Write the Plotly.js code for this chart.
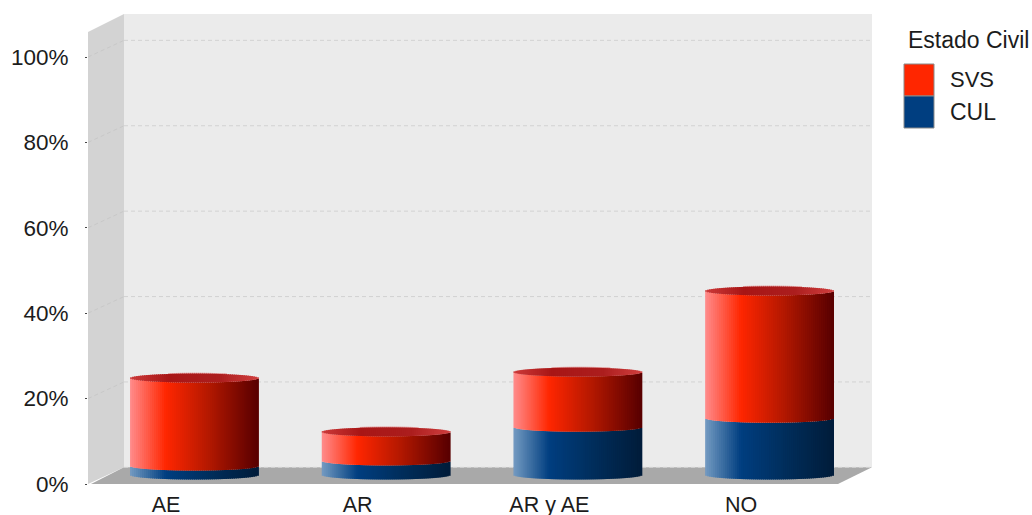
<!DOCTYPE html>
<html>
<head>
<meta charset="utf-8">
<script src="https://cdn.plot.ly/plotly-3.0.1.min.js"></script>
<style>html,body{margin:0;padding:0;background:#fff;overflow:hidden}#chart{width:1032px;height:515px}</style>
</head>
<body>
<div id="chart"></div>
<script>
// Share of cases per category, stacked by civil status (percent).
const categories = ['AE', 'AR', 'AR y AE', 'NO'];
const svs = [20.6, 6.8, 12.9, 29.8];
const cul = [2.1, 3.3, 11.2, 13.3];
const yTicks = [0, 20, 40, 60, 80, 100];
const legendTitle = 'Estado Civil';
const seriesNames = ['SVS', 'CUL'];

// Shading across a cylinder, left to right: [position, r, g, b].
const redShade = [[0, 255, 140, 140], [0.28, 255, 38, 0], [0.62, 178, 24, 0], [1, 88, 0, 0]];
const blueShade = [[0, 116, 155, 194], [0.28, 0, 62, 128], [0.62, 0, 46, 92], [1, 0, 28, 58]];
const capShade = [[0, 205, 58, 58], [0.3, 168, 22, 22], [0.7, 172, 30, 30], [1, 208, 62, 62]];
const rimShade = [[0, 226, 160, 160], [1, 226, 160, 160]];

// Pixel frame of the plot and the fake-3D box drawn around it.
const W = 1032, H = 515;
const L = 88, R = 872, T = 14, B = 484;
const backX = 124, floorFrontX = 838;
const pxPerUnit = 4.27;
const backDepth = 3.9;   // back wall offset, in y units
const midDepth = 2.1;    // plane the cylinders stand on, in y units
const barOffset = 0.146; // cylinders sit right of their tick label
const barWidth = 0.667;
const strips = 64;
const rimHeight = 1.05;  // half height of the elliptical ends, in y units

const xp = px => (px - L) / (R - L);
const yp = px => (B - px) / (B - T);

function shade(stops, t) {
  for (let i = 1; i < stops.length; i++) {
    if (t <= stops[i][0]) {
      const a = stops[i - 1], b = stops[i], k = (t - a[0]) / (b[0] - a[0]);
      return 'rgb(' + [1, 2, 3].map(c => Math.round(a[c] + (b[c] - a[c]) * k)).join(',') + ')';
    }
  }
  return 'rgb(0,0,0)';
}

// One bar trace per layer; every cylinder is a row of narrow bars so it can carry the shading.
// Strips overlap their right neighbour a little so no seams show between them.
function stripTrace(name, stops, lowerOf, upperOf, from = 0, to = 1) {
  const stripWidth = barWidth / strips;
  const x = [], base = [], y = [], color = [];
  categories.forEach((_, c) => {
    for (let s = 0; s < strips; s++) {
      const t = (s + 0.5) / strips;
      if (t < from || t > to) continue;
      const curve = rimHeight * Math.sqrt(1 - Math.pow(2 * t - 1, 2));
      const lo = lowerOf(c, curve), hi = upperOf(c, curve);
      x.push(c + barOffset + (t - 0.5) * barWidth + stripWidth * 0.25);
      base.push(lo);
      y.push(hi - lo);
      color.push(shade(stops, t));
    }
  });
  return {
    type: 'bar', name, x, y, base, yaxis: 'y2', width: stripWidth * 1.5,
    marker: {color, line: {width: 0}}, hoverinfo: 'skip', showlegend: false
  };
}

const total = c => cul[c] + svs[c];
const traces = [
  stripTrace('CUL', blueShade, (c, d) => -d, (c, d) => cul[c] - d),
  stripTrace('SVS', redShade, (c, d) => cul[c] - d, (c, d) => total(c) - d),
  // Pale back rim showing just above the cap.
  stripTrace('SVS rim', rimShade, (c, d) => total(c), (c, d) => total(c) + d + 0.2, 0.3, 0.75),
  stripTrace('SVS top', capShade, (c, d) => total(c) - d, (c, d) => total(c) + d)
];

// Walls and floor of the box.
const poly = (pts, fill) => ({
  type: 'path', xref: 'paper', yref: 'paper', layer: 'below', line: {width: 0}, fillcolor: fill,
  path: pts.map((p, i) => (i ? 'L' : 'M') + xp(p[0]) + ',' + yp(p[1])).join(' ') + ' Z'
});
const floorBack = B - backDepth * pxPerUnit;
const shapes = [
  poly([[backX, T], [R, T], [R, floorBack], [backX, floorBack]], '#ebebeb'),
  poly([[L, T + 18], [backX, T], [backX, floorBack], [L, B]], '#d3d3d3'),
  poly([[L + 3, B], [backX, floorBack], [R, floorBack], [floorFrontX, B]], '#a9a9a9')
];

// Gridlines run along the back wall and slant down the side wall to the axis.
yTicks.forEach(v => {
  const yb = v + backDepth;
  shapes.push({type: 'line', xref: 'paper', yref: 'y', layer: 'below',
    x0: xp(backX), x1: 1, y0: yb, y1: yb, line: {color: '#d2d2d2', width: 1, dash: '4px,3px'}});
  if (v > 0) shapes.push({type: 'line', xref: 'paper', yref: 'y', layer: 'below',
    x0: 0, x1: xp(backX), y0: v, y1: yb, line: {color: '#c8c8c8', width: 1, dash: '4px,3px'}});
});

// Legend swatches, with the key colours taken from the shading stops.
const swatch = (y0, y1, fill) => ({
  type: 'rect', xref: 'paper', yref: 'paper', x0: xp(904), x1: xp(934), y0: yp(y1), y1: yp(y0),
  fillcolor: fill, line: {color: '#8a8a8a', width: 1}
});
shapes.push(swatch(64, 96, shade(redShade, 0.28)), swatch(96, 128, shade(blueShade, 0.28)));

const font = {family: '"Liberation Sans", Arial, sans-serif', color: '#1c1c1c'};
const note = (text, x, y, size) => ({
  text, xref: 'paper', yref: 'paper', x: xp(x), y: yp(y), xanchor: 'left', yanchor: 'middle',
  showarrow: false, font: Object.assign({}, font, {size}), xshift: 0
});

const layout = {
  width: W, height: H,
  margin: {l: L, r: W - R, t: T, b: H - B, pad: 0},
  paper_bgcolor: '#fff', plot_bgcolor: 'rgba(0,0,0,0)',
  barmode: 'overlay', showlegend: false,
  xaxis: {
    type: 'linear', range: [(L - 166) / 191.7, (R - 166) / 191.7],
    tickmode: 'array', tickvals: categories.map((_, i) => i), ticktext: categories,
    showgrid: false, zeroline: false, showline: false, ticks: '',
    ticklabelstandoff: 5, tickfont: Object.assign({}, font, {size: 21.5})
  },
  yaxis: {
    range: [0, (B - T) / pxPerUnit],
    tickmode: 'array', tickvals: yTicks, ticktext: yTicks.map(v => v + '%'),
    showgrid: false, zeroline: false, showline: false,
    ticks: 'outside', ticklen: 2, tickwidth: 1, tickcolor: '#444',
    ticklabelstandoff: 12, tickfont: Object.assign({}, font, {size: 22.5})
  },
  yaxis2: {
    overlaying: 'y', side: 'left', visible: false,
    range: [-midDepth, (B - T) / pxPerUnit - midDepth]
  },
  shapes,
  annotations: [
    note(legendTitle, 906, 40, 23),
    note(seriesNames[0], 948, 80, 22),
    note(seriesNames[1], 948, 112, 23)
  ]
};

Plotly.newPlot('chart', traces, layout, {staticPlot: true, displayModeBar: false});
</script>
</body>
</html>
